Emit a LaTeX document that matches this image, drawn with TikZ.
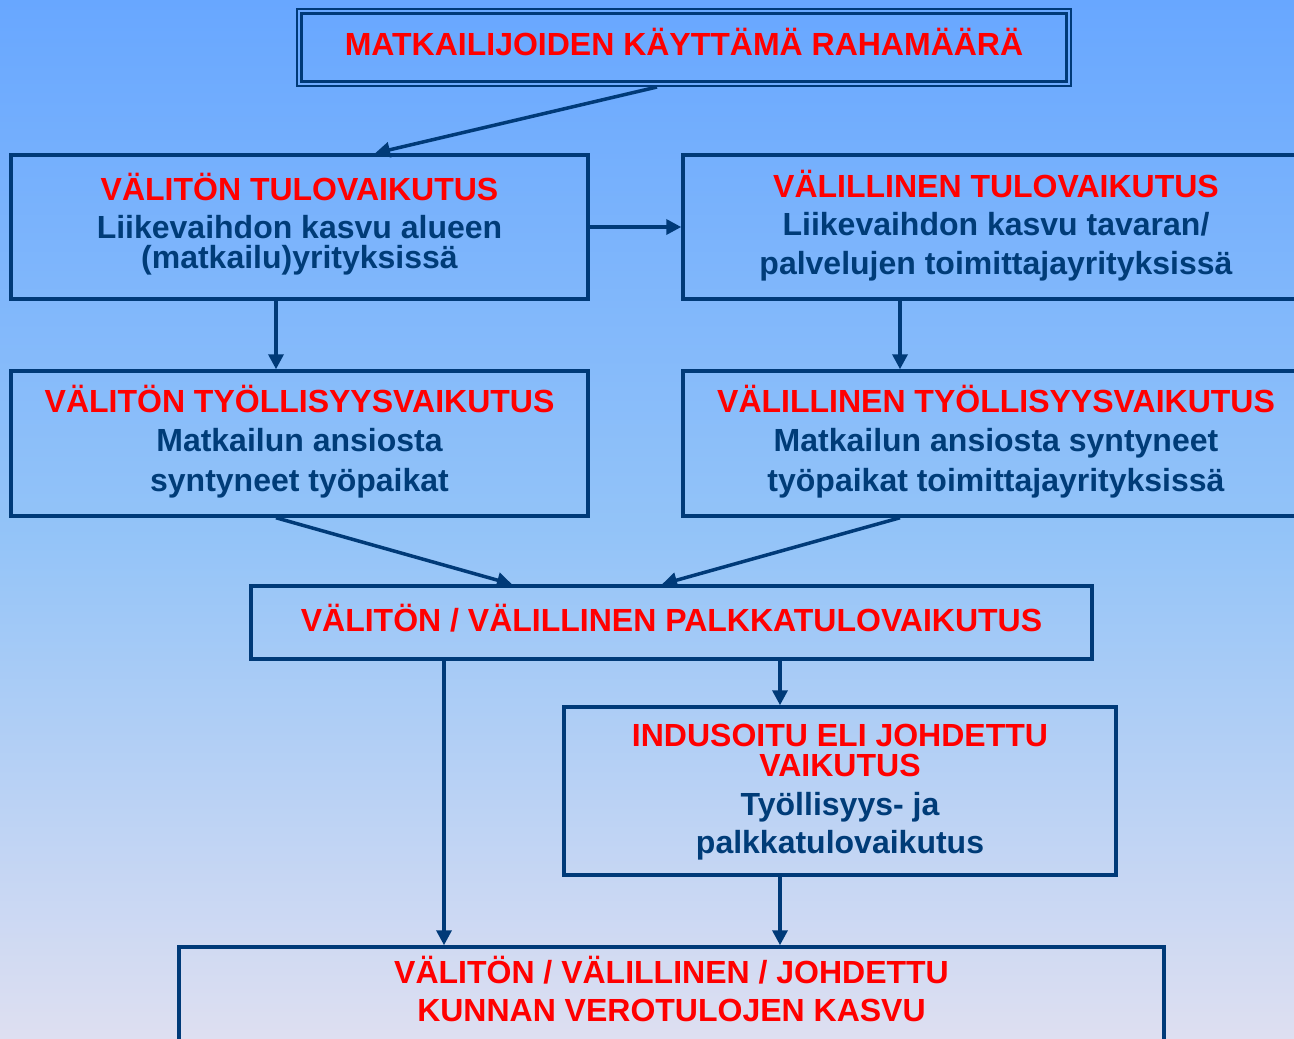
\documentclass[tikz,border=0pt]{standalone}
\usepackage{fontspec}
\setmainfont{Liberation Sans}
\usetikzlibrary{arrows.meta}
\definecolor{navy}{RGB}{0,58,120}
\definecolor{txtblue}{RGB}{0,60,120}
\definecolor{txtred}{RGB}{255,0,0}
\definecolor{bgtop}{RGB}{104,167,255}
\definecolor{bgmid}{RGB}{148,196,248}
\definecolor{bgbot}{RGB}{222,223,241}
\pgfdeclareverticalshading{bgshade}{100bp}{color(0bp)=(bgbot); color(25bp)=(bgbot); color(49bp)=(bgmid); color(75bp)=(bgtop); color(100bp)=(bgtop)}
\tikzset{
  box/.style={draw=navy, line width=3.5pt, rectangle, inner sep=0pt},
  redline/.style={text=txtred, anchor=base, inner sep=0pt, font=\fontsize{32}{32}\selectfont\bfseries},
  blueline/.style={text=txtblue, anchor=base, inner sep=0pt, font=\fontsize{32}{32}\selectfont\bfseries},
  conn/.style={draw=navy, line width=3.5pt, -{Triangle[length=15pt,width=15pt]}}
}
\begin{document}
\begin{tikzpicture}[x=1pt,y=-1pt]
\useasboundingbox (0,0) rectangle (1294,1039);
\clip (0,0) rectangle (1294,1039);
\fill[shading=bgshade] (0,0) rectangle (1294,1039);

% top box (double border)
\node[draw=navy, line width=2pt, rectangle, inner sep=0pt, minimum width=774pt, minimum height=77pt] (T) at (684,47.5) {};
\draw[navy, line width=2.8pt] ([shift={(5.5pt,-5.5pt)}]T.north west) rectangle ([shift={(-5.5pt,5.5pt)}]T.south east);
\node[redline] (t1) at (684,55) {MATKAILIJOIDEN KÄYTTÄMÄ RAHAMÄÄRÄ};

% row 1
\node[box, minimum width=577pt, minimum height=144pt] (A) at (299.5,227) {};
\node[redline] (a1) at (299.5,200) {VÄLITÖN TULOVAIKUTUS};
\node[blueline] (a2) at (299.5,238) {Liikevaihdon kasvu alueen};
\node[blueline] (a3) at (299.5,268) {(matkailu)yrityksissä};

\node[box, minimum width=626pt, minimum height=144pt] (B) at (996,227) {};
\node[redline] (b1) at (996,197) {VÄLILLINEN TULOVAIKUTUS};
\node[blueline] (b2) at (996,235) {Liikevaihdon kasvu tavaran/};
\node[blueline] (b3) at (996,274) {palvelujen toimittajayrityksissä};

% row 2
\node[box, minimum width=577pt, minimum height=145pt] (C) at (299.5,443.5) {};
\node[redline] (c1) at (299.5,412) {VÄLITÖN TYÖLLISYYSVAIKUTUS};
\node[blueline] (c2) at (299.5,451) {Matkailun ansiosta};
\node[blueline] (c3) at (299.5,491) {syntyneet työpaikat};

\node[box, minimum width=626pt, minimum height=145pt] (D) at (996,443.5) {};
\node[redline] (d1) at (996,412) {VÄLILLINEN TYÖLLISYYSVAIKUTUS};
\node[blueline] (d2) at (996,451) {Matkailun ansiosta syntyneet};
\node[blueline] (d3) at (996,491) {työpaikat toimittajayrityksissä};

% row 3
\node[box, minimum width=841pt, minimum height=73pt] (E) at (671.5,622.5) {};
\node[redline] (e1) at (671.5,631) {VÄLITÖN / VÄLILLINEN PALKKATULOVAIKUTUS};

% induced
\node[box, minimum width=552pt, minimum height=168pt] (F) at (840,791) {};
\node[redline] (f1) at (840,746) {INDUSOITU ELI JOHDETTU};
\node[redline] (f2) at (840,776) {VAIKUTUS};
\node[blueline] (f3) at (840,815) {Työllisyys- ja};
\node[blueline] (f4) at (840,853) {palkkatulovaikutus};

% bottom
\node[box, minimum width=985pt, minimum height=140pt] (G) at (671.5,1017) {};
\node[redline] (g1) at (671.5,983) {VÄLITÖN / VÄLILLINEN / JOHDETTU};
\node[redline] (g2) at (671.5,1021) {KUNNAN VEROTULOJEN KASVU};

% connectors
\draw[conn] ([xshift=-27pt]T.south) -- ([xshift=75.5pt]A.north);
\draw[conn] (A.east) -- (B.west);
\draw[conn] ([xshift=-23.5pt]A.south) -- ([xshift=-23.5pt]C.north);
\draw[conn] ([xshift=-96pt]B.south) -- ([xshift=-96pt]D.north);
\draw[conn] ([xshift=-23.5pt]C.south) -- ([xshift=-159.5pt]E.north);
\draw[conn] ([xshift=-96pt]D.south) -- ([xshift=-9.5pt]E.north);
\draw[conn] ([xshift=-227.5pt]E.south) -- ([xshift=-227.5pt]G.north);
\draw[conn] ([xshift=108.5pt]E.south) -- ([xshift=-60pt]F.north);
\draw[conn] ([xshift=-60pt]F.south) -- ([xshift=108.5pt]G.north);
\end{tikzpicture}
\end{document}
